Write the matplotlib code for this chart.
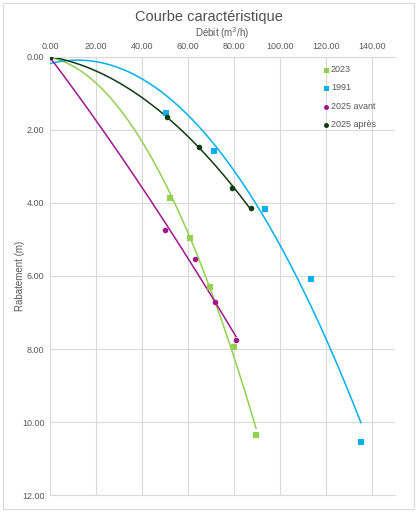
import numpy as np
import matplotlib.pyplot as plt

plt.rcParams['font.family'] = ['Liberation Sans', 'DejaVu Sans']

# measured flow (m3/h) and drawdown (m) for each campaign
q_2023 = [0.0, 52.2, 60.9, 69.6, 80.0, 89.6]
s_2023 = [0.0, 3.86, 4.96, 6.30, 7.95, 10.36]

q_1991 = [0.0, 50.4, 71.3, 93.5, 113.5, 135.2]
s_1991 = [0.0, 1.53, 2.58, 4.16, 6.08, 10.55]

q_avant = [0.0, 50.0, 63.0, 71.7, 80.9]
s_avant = [0.0, 4.74, 5.53, 6.71, 7.75]

q_apres = [0.0, 50.9, 64.8, 79.1, 87.4]
s_apres = [0.0, 1.64, 2.47, 3.59, 4.14]

series = [
    ('2023', q_2023, s_2023, '#92D050', 's'),
    ('1991', q_1991, s_1991, '#00B0F0', 's'),
    ('2025 avant', q_avant, s_avant, '#A0168E', 'o'),
    ('2025 après', q_apres, s_apres, '#0E3B12', 'o'),
]

fig = plt.figure(figsize=(4.17, 5.12), dpi=100)
ax = fig.add_axes([0.12, 0.033, 0.827, 0.856])

for label, q, s, color, marker in series:
    ax.scatter(q, s, marker=marker, s=16, color=color, label=label,
               zorder=3, linewidths=0)
    # polynomial (order 2) trendline, like the spreadsheet one
    coef = np.polyfit(q, s, 2)
    xs = np.linspace(0, max(q), 200)
    ax.plot(xs, np.polyval(coef, xs), color=color, linewidth=1.1, zorder=2)

ax.set_xlim(0, 150)
ax.set_ylim(12, 0)
ax.set_xticks(np.arange(0, 141, 20))
ax.set_yticks(np.arange(0, 12.1, 2))
ax.xaxis.set_major_formatter(lambda v, p: f'{v:.2f}')
ax.yaxis.set_major_formatter(lambda v, p: f'{v:.2f}')
ax.xaxis.tick_top()
ax.xaxis.set_label_position('top')
ax.tick_params(axis='both', length=0, labelsize=6.5, colors='#595959', pad=4)
ax.grid(True, color='#D9D9D9', linewidth=0.8)
ax.set_axisbelow(True)
for side in ['right', 'left']:
    ax.spines[side].set_visible(False)
ax.spines['bottom'].set_color('#D9D9D9')
ax.spines['top'].set_color('#D9D9D9')

ax.set_xlabel('Débit (m$^3$/h)', fontsize=7, color='#595959', labelpad=4)
ax.set_ylabel('Rabatement (m)', fontsize=7, color='#595959', labelpad=-2)
fig.text(0.5, 0.966, 'Courbe caractéristique', ha='center', va='center',
         fontsize=10.5, color='#505050')

leg = ax.legend(loc='upper left', bbox_to_anchor=(0.765, 1.0), frameon=False,
                fontsize=6.5, handletextpad=0.0, labelspacing=1.05,
                markerscale=0.9, handlelength=1.0)
for t in leg.get_texts():
    t.set_color('#595959')

fig.patches.append(plt.Rectangle((0.008, 0.006), 0.984, 0.988,
                                 transform=fig.transFigure, fill=False,
                                 edgecolor='#D9D9D9', linewidth=0.8))

fig.savefig('out.png', dpi=100)
